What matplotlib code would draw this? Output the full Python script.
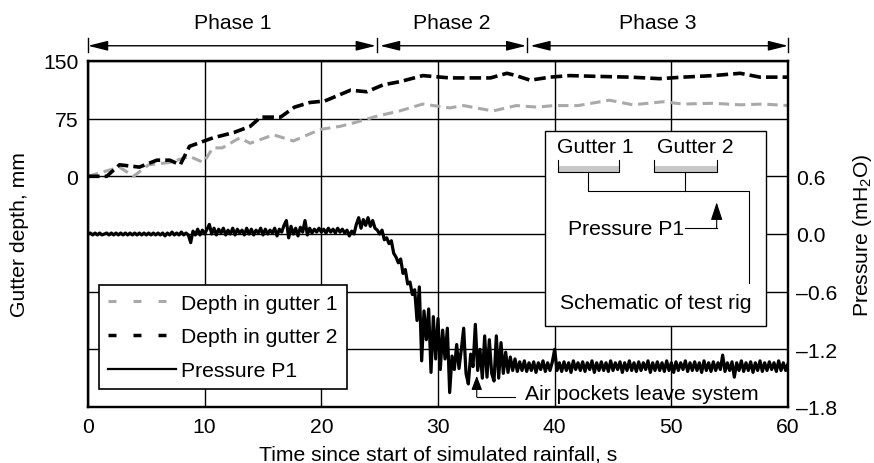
import numpy as np
import matplotlib.pyplot as plt
from matplotlib.lines import Line2D
from matplotlib.patches import Rectangle

plt.rcParams['font.family'] = ['Liberation Sans', 'DejaVu Sans']
plt.rcParams['font.size'] = 15.2

# gutter depths (mm)
g1_t = [0, 2.7, 3.9, 5.2, 7.0, 8.7, 9.9, 10.7, 11.5, 13.0, 13.9, 15.9, 17.6, 19.9, 21.6,
        22.9, 24.7, 26.7, 28.7, 31.0, 32.2, 34.7, 36.7, 38.5, 39.9, 42.0, 44.7, 46.7,
        49.3, 51.0, 53.6, 55.9, 57.9, 60]
g1_mm = [0, 12, 0, 15, 18, 26, 18, 37, 37, 50, 43, 54, 46, 61, 65,
         70, 78, 85, 94, 89, 92, 85, 92, 90, 92, 92, 99, 93,
         97, 94, 95, 93, 94, 92]

g2_t = [0, 1.6, 2.7, 4.4, 5.9, 7.0, 7.9, 8.7, 10.7, 12.5, 13.9, 14.8, 16.5, 17.7, 19.0,
        20.3, 22.5, 23.9, 25.3, 26.7, 28.7, 31.0, 34.5, 35.9, 36.7, 37.9, 39.6, 41.3,
        43.6, 46.5, 49.0, 51.0, 53.6, 55.9, 57.6, 60]
g2_mm = [0, 0, 15, 12, 21, 21, 15, 39, 50, 57, 65, 77, 77, 90, 96,
         98, 112, 110, 119, 123, 131, 128, 128, 134, 131, 125, 129, 131,
         130, 129, 127, 129, 131, 134, 129, 129]

# pressure P1 (mH2O), one value every 0.2 s
p1 = [
    0.00, 0.01, -0.01, 0.01, -0.01,  0.01, -0.01, 0.00, 0.01, -0.01,
    0.01, -0.01, 0.01, -0.01, 0.01,  -0.01, 0.01, -0.01, 0.01, -0.01,
    0.01, -0.01, 0.01, -0.01, 0.01,  -0.01, 0.01, -0.01, 0.01, -0.01,
    0.01, -0.01, 0.01, -0.02, 0.01,  -0.01, 0.02, -0.01, 0.01, -0.01,
    0.02, -0.01, 0.01, -0.01, -0.09,  0.03, -0.01, 0.05, -0.01, 0.04,
    0.00, 0.05, 0.10, 0.00, 0.06,  -0.01, 0.05, 0.01, 0.06, -0.01,
    0.04, 0.00, 0.06, -0.01, 0.05,  0.01, 0.04, -0.01, 0.06, 0.00,
    0.05, -0.01, 0.04, 0.01, 0.06,  -0.01, 0.05, 0.00, 0.04, 0.01,
    0.06, -0.02, 0.05, 0.02, 0.09,  0.14, -0.04, 0.08, 0.00, 0.06,
    -0.02, 0.07, 0.02, 0.14, -0.01,  0.06, 0.01, 0.05, 0.02, 0.06,
    0.02, 0.05, 0.01, 0.06, 0.02,  0.05, 0.01, 0.06, 0.02, 0.05,
    0.01, 0.04, -0.02, 0.03, 0.00,  0.10, 0.17, 0.06, 0.15, 0.09,
    0.17, 0.08, 0.14, 0.06, 0.04,  0.00, 0.04, -0.06, -0.04, -0.10,
    -0.07, -0.20, -0.24, -0.30, -0.26,  -0.41, -0.37, -0.52, -0.50, -0.63,
    -0.58, -0.90, -0.55, -1.32, -0.80,  -1.10, -0.78, -1.44, -0.86, -1.30,
    -0.88, -1.41, -1.00, -1.30, -0.98,  -1.65, -1.27, -1.41, -1.15, -1.40,
    -1.20, -0.98, -1.45, -1.56, -1.25,  -1.38, -0.94, -1.42, -1.20, -1.50,
    -1.06, -1.49, -1.10, -1.45, -1.53,  -1.06, -1.50, -1.13, -1.45, -1.23,
    -1.44, -1.28, -1.42, -1.30, -1.43,  -1.33, -1.42, -1.32, -1.43, -1.34,
    -1.42, -1.33, -1.44, -1.34, -1.41,  -1.32, -1.43, -1.34, -1.42, -1.33,
    -1.20, -1.42, -1.34, -1.43, -1.33,  -1.42, -1.34, -1.44, -1.32, -1.41,
    -1.34, -1.42, -1.33, -1.43, -1.34,  -1.41, -1.32, -1.44, -1.34, -1.42,
    -1.33, -1.42, -1.34, -1.43, -1.32,  -1.42, -1.34, -1.41, -1.33, -1.44,
    -1.34, -1.42, -1.32, -1.42, -1.34,  -1.43, -1.33, -1.42, -1.34, -1.41,
    -1.32, -1.44, -1.34, -1.42, -1.33,  -1.42, -1.34, -1.43, -1.32, -1.42,
    -1.34, -1.44, -1.33, -1.42, -1.34,  -1.41, -1.32, -1.43, -1.34, -1.42,
    -1.33, -1.42, -1.34, -1.44, -1.32,  -1.42, -1.34, -1.43, -1.33, -1.42,
    -1.34, -1.41, -1.26, -1.43, -1.34,  -1.42, -1.33, -1.49, -1.34, -1.42,
    -1.32, -1.43, -1.34, -1.42, -1.33,  -1.44, -1.34, -1.42, -1.32, -1.43,
    -1.34, -1.42, -1.33, -1.41, -1.34,  -1.43, -1.32, -1.42, -1.34, -1.42,
    -1.35,
]
p_t = np.linspace(0, 60, len(p1))

x_ticks = [0, 10, 20, 30, 40, 50, 60]
depth_ticks = [-300, -225, -150, -75, 0, 75, 150]
depth_labels = ['', '', '', '', '0', '75', '150']
p_ticks = [-1.8, -1.2, -0.6, 0.0, 0.6, 1.2, 1.8]
p_labels = ['\u20131.8', '\u20131.2', '\u20130.6', '0.0', '0.6', '', '']

phase_bounds = [0, 24.77, 37.66, 60]
phase_names = ['Phase 1', 'Phase 2', 'Phase 3']

fig = plt.figure(figsize=(8.74, 4.64), dpi=100)
ax = fig.add_axes([0.1007, 0.1207, 0.8009, 0.7457])
ax2 = ax.twinx()

gray = '#a9a9a9'
ax.plot(g1_t, g1_mm, color=gray, lw=2.2, dashes=(3.4, 1.9))
ax.plot(g2_t, g2_mm, color='k', lw=2.6, dashes=(3.2, 1.4))
ax2.plot(p_t, p1, color='k', lw=2.3)

ax.set_xlim(0, 60)
ax.set_ylim(-300, 150)
ax2.set_ylim(-1.8, 1.8)
ax.set_xticks(x_ticks)
ax.set_yticks(depth_ticks, depth_labels)
ax2.set_yticks(p_ticks, p_labels)
ax.grid(True, color='k', lw=1)
ax.tick_params(length=0, pad=7)
ax2.tick_params(length=0, pad=6)
for a in (ax, ax2):
    for s in a.spines.values():
        s.set_linewidth(1.6)

ax.set_xlabel('Time since start of simulated rainfall, s', labelpad=6)
ax.set_ylabel('Gutter depth, mm', labelpad=10)
ax2.set_ylabel('Pressure (mH$_\\mathregular{2}$O)', labelpad=10)

# phase arrows above the plot
tr = ax.get_xaxis_transform()
for i, name in enumerate(phase_names):
    a0 = phase_bounds[i] + (0.26 if i > 0 else 0)
    a1 = phase_bounds[i + 1] - (0.1 if i < 2 else 0)
    ax.annotate('', xy=(a1, 1.044), xytext=(a0, 1.044), xycoords=tr, textcoords=tr,
                arrowprops=dict(arrowstyle='<|-|>,head_length=0.8,head_width=0.2',
                                color='k', lw=1, shrinkA=0, shrinkB=0, mutation_scale=15),
                annotation_clip=False)
    ax.text((phase_bounds[i] + phase_bounds[i + 1]) / 2, 1.11, name,
            transform=tr, ha='center', va='center')
for b in phase_bounds:
    ax.plot([b, b], [1.026, 1.066], color='k', lw=1, transform=tr, clip_on=False)

# legend
handles = [Line2D([], [], color=gray, lw=2.2, dashes=(2.6, 5.6)),
           Line2D([], [], color='k', lw=2.5, dashes=(2.3, 4.9)),
           Line2D([], [], color='k', lw=1.6)]
leg = ax2.legend(handles, ['Depth in gutter 1', 'Depth in gutter 2', 'Pressure P1'],
                 loc='lower left', bbox_to_anchor=(0.0164, 0.052), borderaxespad=0,
                 fancybox=False, edgecolor='k', framealpha=1, handlelength=3.2,
                 handletextpad=0.25, labelspacing=0.7, borderpad=0.42)
leg.get_frame().set_linewidth(1.2)

# schematic of test rig
T = ax2.transAxes
ax2.add_patch(Rectangle((0.6529, 0.2341), 0.3157, 0.5636, transform=T,
                        facecolor='white', edgecolor='k', lw=1, zorder=3))
ax2.text(0.670, 0.754, 'Gutter 1', transform=T, va='center', zorder=4)
ax2.text(0.8129, 0.754, 'Gutter 2', transform=T, va='center', zorder=4)
for x0, x1 in [(0.671, 0.7586), (0.8086, 0.8981)]:
    ax2.add_patch(Rectangle((x0, 0.680), x1 - x0, 0.0157, transform=T,
                            facecolor='#c8c8c8', edgecolor='none', zorder=4))
    ax2.plot([x0, x0, x1, x1], [0.7147, 0.680, 0.680, 0.7147], color='k', lw=0.8,
             transform=T, zorder=5)
ax2.plot([0.7148, 0.7148, 0.9443, 0.9443], [0.680, 0.6251, 0.6251, 0.3584],
         color='k', lw=0.8, transform=T, zorder=5)
ax2.plot([0.8534, 0.8534], [0.680, 0.6251], color='k', lw=0.8, transform=T, zorder=5)
ax2.text(0.6857, 0.5173, 'Pressure P1', transform=T, va='center', zorder=4)
ax2.plot([0.8529, 0.8981], [0.5173, 0.5173], color='k', lw=0.8, transform=T, zorder=5)
ax2.annotate('', xy=(0.8981, 0.5916), xytext=(0.8981, 0.5173), xycoords=T, textcoords=T,
             arrowprops=dict(arrowstyle='-|>,head_length=1.1,head_width=0.36', color='k',
                             lw=0.8, shrinkA=0, shrinkB=0, mutation_scale=10), zorder=5)
ax2.text(0.8114, 0.3006, 'Schematic of test rig', transform=T, ha='center', va='center',
         zorder=4)

# air pockets note
ax2.text(37.46, -1.717, 'Air pockets leave system', va='baseline')
ax2.plot([36.6, 33.32], [-1.696, -1.696], color='k', lw=0.8)
ax2.annotate('', xy=(33.32, -1.476), xytext=(33.32, -1.696),
             arrowprops=dict(arrowstyle='-|>,head_length=0.86,head_width=0.33', color='k',
                             lw=0.8, shrinkA=0, shrinkB=0, mutation_scale=10))

fig.savefig('out.png', dpi=100)
